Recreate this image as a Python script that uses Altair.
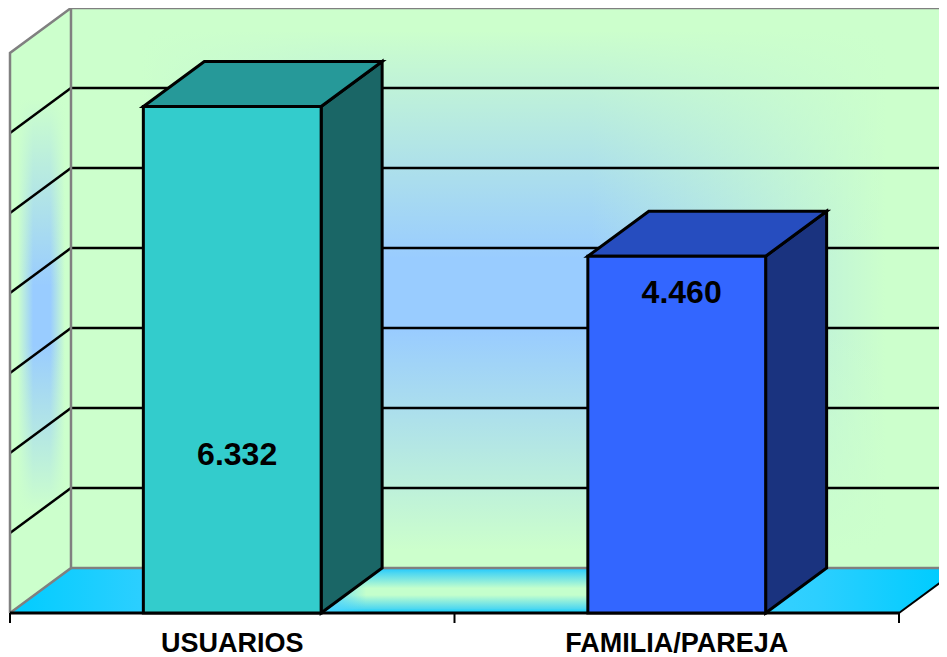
import altair as alt
import pandas as pd

categories = ["USUARIOS", "FAMILIA/PAREJA"]
values = [6332, 4460]
value_labels = ["6.332", "4.460"]
label_values = [1975, 4000]
front_colors = ["#33CCCC", "#3366FF"]
top_colors = ["#269999", "#264DBF"]
side_colors = ["#1A6666", "#1A337F"]
grid_values = [1000, 2000, 3000, 4000, 5000, 6000]
tick_positions = [0, 1, 2]

# oblique projection of the depth axis, in data units
DX = 0.1372     # categories per unit depth
DY = 562.5      # value units per unit depth
BAR_W = 0.40
MAX_V = 7000
X_END = 2 + DX

X_DOMAIN = [-0.0045, 2.09]
Y_DOMAIN = [-550, 7562.5]
W, H = 931, 649

xs = alt.Scale(domain=X_DOMAIN, range=[0, W], nice=False, zero=False)
ys = alt.Scale(domain=Y_DOMAIN, range=[H, 0], nice=False, zero=False)


def grad_h(stops):
    return alt.Gradient(gradient="linear", x1=0, x2=1, y1=0, y2=0,
                        stops=[alt.GradientStop(offset=o, color=c) for o, c in stops])


def grad_v(stops):
    return alt.Gradient(gradient="linear", x1=0, x2=0, y1=0, y2=1,
                        stops=[alt.GradientStop(offset=o, color=c) for o, c in stops])


def harea(rows, **mark):
    """rows: (y, x, x2) -- polygon with horizontal edges"""
    df = pd.DataFrame(rows, columns=["y", "x", "x2"])
    return alt.Chart(df).mark_area(orient="horizontal", **mark).encode(
        y=alt.Y("y:Q", scale=ys, axis=None),
        x=alt.X("x:Q", scale=xs, axis=None),
        x2="x2:Q",
    )


def varea(rows, **mark):
    """rows: (x, y, y2) -- polygon with vertical edges"""
    df = pd.DataFrame(rows, columns=["x", "y", "y2"])
    return alt.Chart(df).mark_area(orient="vertical", **mark).encode(
        x=alt.X("x:Q", scale=xs, axis=None),
        y=alt.Y("y:Q", scale=ys, axis=None),
        y2="y2:Q",
    )


def line(rows, color, width):
    df = pd.DataFrame([(x, y, i) for i, (x, y) in enumerate(rows)], columns=["x", "y", "o"])
    return alt.Chart(df).mark_line(color=color, strokeWidth=width, clip=True).encode(
        x=alt.X("x:Q", scale=xs, axis=None),
        y=alt.Y("y:Q", scale=ys, axis=None),
        order="o:Q",
    )


GREEN = "#CCFFCC"
GREEN0 = "rgba(204,255,204,0)"
BLUE = "#99CCFF"
CYAN = "#00CCFF"
CYAN0 = "rgba(77,213,255,0)"
GRAY = "#808080"

layers = []

# back wall
wall = [(DX, DY, MAX_V + DY), (X_END, DY, MAX_V + DY)]
layers.append(varea(wall, fill=BLUE, clip=True))
layers.append(varea(wall, fill=grad_h([(0, GREEN), (0.08, GREEN), (0.30, GREEN0), (0.584, GREEN0), (0.916, GREEN), (1, GREEN)]), clip=True))
layers.append(varea(wall, fill=grad_v([(0, GREEN), (0.04, GREEN), (0.448, GREEN0), (0.575, GREEN0), (0.968, GREEN), (1, GREEN)]), clip=True))

# side wall
side = [(0, 0, MAX_V), (DX, DY, MAX_V + DY)]
layers.append(varea(side, fill=BLUE))
layers.append(varea(side, fill=grad_h([(0, GREEN), (0.13, GREEN), (0.38, GREEN0), (0.66, GREEN0), (0.9, GREEN), (1, GREEN)])))
layers.append(varea(side, fill=grad_v([(0, GREEN), (0.15, GREEN), (0.46, GREEN0), (0.557, GREEN0), (0.83, GREEN), (1, GREEN)])))

# floor
floor = [(DY, DX, X_END), (0, 0, 2)]
layers.append(harea(floor, fill=grad_v([(0, "#20C8FF"), (0.12, "#50D8F0"), (0.45, "#C4FFCC"), (0.6, "#C4FFCC"), (0.9, "#50D8F0"), (1, CYAN)]), clip=True))
layers.append(harea(floor, fill=grad_h([(0, CYAN), (0.14, "#2CCFFF"), (0.33, "#4DD5FF"), (0.375, CYAN0), (0.63, CYAN0), (0.67, "#4DD5FF"), (0.85, "#2CCFFF"), (0.98, CYAN), (1, CYAN)]), clip=True))

# gridlines: side wall + back wall
for v in grid_values:
    layers.append(line([(0, v), (DX, v + DY)], "black", 2.5))
    layers.append(line([(DX, v + DY), (X_END, v + DY)], "black", 2.5))

# wall frame
layers.append(line([(0, 0), (0, MAX_V), (DX, MAX_V + DY), (X_END, MAX_V + DY)], GRAY, 2.5))
layers.append(line([(0, 0), (DX, DY), (DX, MAX_V + DY)], GRAY, 2.5))
layers.append(line([(DX, DY), (X_END, DY)], GRAY, 2.5))
layers.append(line([(X_END, DY), (2, 0)], "black", 2))

# axis baseline and ticks
layers.append(line([(0, 0), (2, 0)], "black", 3))
for t in tick_positions:
    layers.append(line([(t, 0), (t, -125)], "black", 2))

# bars
for i, (val, fc, tc, sc) in enumerate(zip(values, front_colors, top_colors, side_colors)):
    x0 = i + 0.5 - BAR_W / 2
    x1 = i + 0.5 + BAR_W / 2
    stroke = dict(stroke="black", strokeWidth=3, strokeJoin="miter")
    layers.append(varea([(x1, 0, val), (x1 + DX, DY, val + DY)], fill=sc, **stroke))
    layers.append(harea([(val + DY, x0 + DX, x1 + DX), (val, x0, x1)], fill=tc, **stroke))
    layers.append(varea([(x0, 0, val), (x1, 0, val)], fill=fc, **stroke))

# value labels
labels = pd.DataFrame({
    "x": [i + 0.511 for i in range(len(categories))],
    "y": label_values,
    "t": value_labels,
})
layers.append(alt.Chart(labels).mark_text(
    font="Liberation Sans", fontWeight="bold", fontSize=32, color="black", baseline="middle"
).encode(x=alt.X("x:Q", scale=xs, axis=None), y=alt.Y("y:Q", scale=ys, axis=None), text="t:N"))

cats = pd.DataFrame({"x": [i + 0.5 for i in range(len(categories))], "y": [-387] * 2, "t": categories})
layers.append(alt.Chart(cats).mark_text(
    font="Liberation Sans", fontWeight="bold", fontSize=27, color="black", baseline="middle"
).encode(x=alt.X("x:Q", scale=xs, axis=None), y=alt.Y("y:Q", scale=ys, axis=None), text="t:N"))

chart = alt.layer(*layers).properties(
    width=W, height=H, padding=0, background="white",
    autosize=alt.AutoSizeParams(type="none"),
).configure_view(stroke=None)

chart.save("out.html", embed_options={"renderer": "svg", "actions": False})
